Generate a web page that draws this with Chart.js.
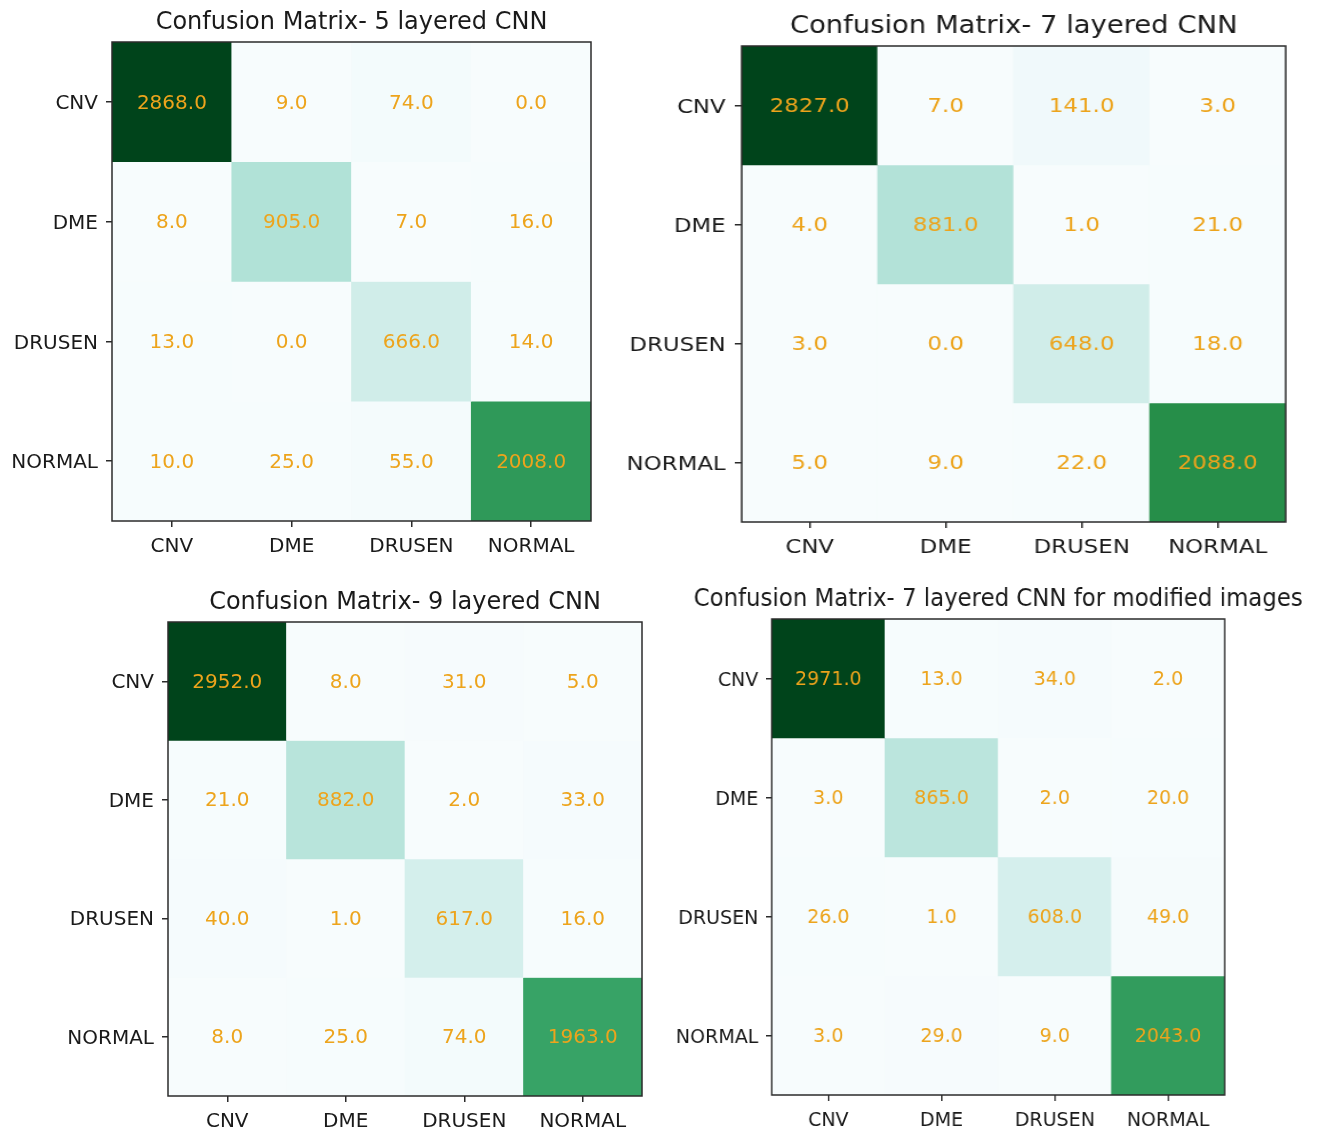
<!DOCTYPE html>
<html>
<head>
<meta charset="utf-8">
<title>Confusion matrices</title>
<script src="https://cdn.jsdelivr.net/npm/chart.js@4.4.0/dist/chart.umd.min.js"></script>
<style>
  html, body { margin: 0; padding: 0; background: #ffffff; }
  body { width: 1320px; height: 1129px; overflow: hidden; position: relative; }
  canvas { position: absolute; transform-origin: 0 0; }
</style>
</head>
<body>
<canvas id="cm5"></canvas>
<canvas id="cm7"></canvas>
<canvas id="cm9"></canvas>
<canvas id="cm7mod"></canvas>
<script>
// Class labels (rows = true class, columns = predicted class)
const classes = ['CNV', 'DME', 'DRUSEN', 'NORMAL'];

const cm5layer = [
  [2868, 9, 74, 0],
  [8, 905, 7, 16],
  [13, 0, 666, 14],
  [10, 25, 55, 2008]
];
const cm7layer = [
  [2827, 7, 141, 3],
  [4, 881, 1, 21],
  [3, 0, 648, 18],
  [5, 9, 22, 2088]
];
const cm9layer = [
  [2952, 8, 31, 5],
  [21, 882, 2, 33],
  [40, 1, 617, 16],
  [8, 25, 74, 1963]
];
const cm7layerModified = [
  [2971, 13, 34, 2],
  [3, 865, 2, 20],
  [26, 1, 608, 49],
  [3, 29, 9, 2043]
];

const panelTitles = [
  'Confusion Matrix- 5 layered CNN',
  'Confusion Matrix- 7 layered CNN',
  'Confusion Matrix- 9 layered CNN',
  'Confusion Matrix- 7 layered CNN for modified images'
];

// BuGn colour ramp
const BUGN = [
  [247, 252, 253], [229, 245, 249], [204, 236, 230], [153, 216, 201],
  [102, 194, 164], [65, 174, 118], [35, 139, 69], [0, 109, 44], [0, 68, 27]
];
function bugn(t) {
  t = Math.max(0, Math.min(1, t));
  const pos = t * (BUGN.length - 1);
  const i = Math.min(Math.floor(pos), BUGN.length - 2);
  const f = pos - i;
  const a = BUGN[i], b = BUGN[i + 1];
  const c = a.map((v, k) => Math.round(v + (b[k] - v) * f));
  return `rgb(${c[0]},${c[1]},${c[2]})`;
}

const FONT = '"DejaVu Sans", "Liberation Sans", sans-serif';
const TEXT_COLOR = '#1a1a1a';
const VALUE_COLOR = '#eda41c';
const LINE_COLOR = '#2b2b2b';

// Fixed margins around each plot box (in the canvas' own pixels)
const AXIS_W = 110;   // room for row labels
const PAD_R = 110;    // room for long titles
const TITLE_H = 40;   // space above the plot box
const TITLE_GAP = 19; // title centre sits this far above the box
const XAXIS_H = 50;

// Title centred over the plot box
const panelTitle = {
  id: 'panelTitle',
  afterDraw(chart, args, opts) {
    const { ctx, chartArea: a } = chart;
    ctx.save();
    ctx.font = `24px ${FONT}`;
    ctx.fillStyle = TEXT_COLOR;
    ctx.textAlign = 'center';
    ctx.textBaseline = 'middle';
    ctx.fillText(opts.text, (a.left + a.right) / 2, a.top - TITLE_GAP);
    ctx.restore();
  }
};

// Outline of the plot box
const frame = {
  id: 'frame',
  afterDatasetsDraw(chart) {
    const { ctx, chartArea: a } = chart;
    ctx.save();
    ctx.strokeStyle = LINE_COLOR;
    ctx.lineWidth = 1.5;
    ctx.strokeRect(a.left, a.top, a.right - a.left, a.bottom - a.top);
    ctx.restore();
  }
};

// Count written in the middle of each cell
const cellValues = {
  id: 'cellValues',
  afterDatasetsDraw(chart) {
    const { ctx } = chart;
    ctx.save();
    ctx.font = `20px ${FONT}`;
    ctx.fillStyle = VALUE_COLOR;
    ctx.textAlign = 'center';
    ctx.textBaseline = 'middle';
    chart.data.datasets.forEach((ds, i) => {
      const meta = chart.getDatasetMeta(i);
      meta.data.forEach((bar, j) => {
        const p = bar.getProps(['x', 'y', 'base'], true);
        ctx.fillText(ds.counts[j].toFixed(1), p.x, (p.y + p.base) / 2 + 1.5);
      });
    });
    ctx.restore();
  }
};

function drawMatrix(id, title, matrix, box) {
  const size = box.h;                       // square cells before stretching
  const sx = box.w / box.h;
  const cw = AXIS_W + size + PAD_R;
  const ch = TITLE_H + size + XAXIS_H;
  const canvas = document.getElementById(id);
  canvas.width = cw;
  canvas.height = ch;
  canvas.style.width = cw + 'px';
  canvas.style.height = ch + 'px';
  canvas.style.left = (box.left - AXIS_W * sx) + 'px';
  canvas.style.top = (box.top - TITLE_H) + 'px';
  canvas.style.transform = `scaleX(${sx})`;

  const flat = matrix.flat();
  const vmin = Math.min(...flat), vmax = Math.max(...flat);

  const datasets = matrix.map((row, i) => ({
    counts: row,
    data: row.map(() => [i - 0.5, i + 0.5]),
    backgroundColor: row.map(v => bugn((v - vmin) / (vmax - vmin))),
    borderWidth: 0,
    borderSkipped: false,
    grouped: false,
    barPercentage: 1,
    categoryPercentage: 1
  }));

  const tickFont = { family: FONT, size: 20 };
  const tickGrid = { drawOnChartArea: false, drawTicks: true, tickLength: 6, tickColor: LINE_COLOR, tickWidth: 1.5, color: LINE_COLOR, lineWidth: 1.5 };

  new Chart(canvas, {
    type: 'bar',
    data: { labels: classes, datasets },
    options: {
      responsive: false,
      animation: false,
      devicePixelRatio: 1,
      layout: { autoPadding: false, padding: { left: 0, right: PAD_R, top: TITLE_H, bottom: 0 } },
      plugins: {
        legend: { display: false },
        tooltip: { enabled: false },
        title: { display: false },
        panelTitle: { text: title }
      },
      scales: {
        x: {
          type: 'category',
          offset: true,
          border: { display: false },
          grid: Object.assign({ offset: false }, tickGrid),
          ticks: { color: TEXT_COLOR, font: tickFont, padding: 8, maxRotation: 0, autoSkip: false },
          afterFit(scale) { scale.height = XAXIS_H; }
        },
        y: {
          type: 'linear',
          reverse: true,
          min: -0.5,
          max: 3.5,
          border: { display: false },
          grid: tickGrid,
          ticks: {
            color: TEXT_COLOR,
            font: tickFont,
            padding: 8,
            labelOffset: 2,
            autoSkip: false,
            callback: v => classes[v]
          },
          afterBuildTicks(scale) {
            // one tick at the centre of each row
            scale.ticks = classes.map((_, i) => ({ value: i }));
          },
          afterFit(scale) { scale.width = AXIS_W; }
        }
      }
    },
    plugins: [cellValues, frame, panelTitle]
  });
}

drawMatrix('cm5', panelTitles[0], cm5layer, { left: 112, top: 42, w: 479, h: 479 });
drawMatrix('cm7', panelTitles[1], cm7layer, { left: 742, top: 46, w: 544, h: 476 });
drawMatrix('cm9', panelTitles[2], cm9layer, { left: 168, top: 622, w: 474, h: 474 });
drawMatrix('cm7mod', panelTitles[3], cm7layerModified, { left: 772, top: 619, w: 453, h: 476 });
</script>
</body>
</html>
